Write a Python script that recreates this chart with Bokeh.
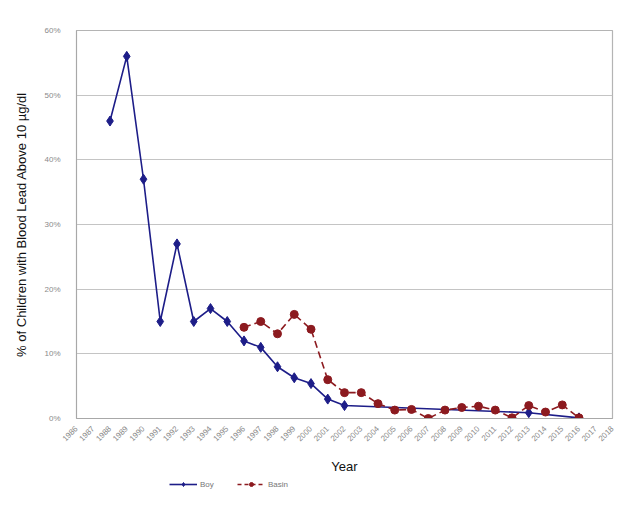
import math
from bokeh.plotting import figure
from bokeh.layouts import column
from bokeh.models import FixedTicker, PrintfTickFormatter, Legend, LegendItem, Range1d
from bokeh.embed import file_html
from bokeh.resources import INLINE

# ---- data ----
tick_years = [1986, 1987, 1988, 1989, 1990, 1991, 1992, 1993, 1994, 1995, 1996,
              1997, 1998, 1999, 2000, 2001, 2002, 2003, 2004, 2005, 2006, 2007,
              2008, 2009, 2010, 2011, 2012, 2013, 2014, 2015, 2016, 2017, 2018]
pct_ticks = [0, 10, 20, 30, 40, 50, 60]

boy_years = [1988, 1989, 1990, 1991, 1992, 1993, 1994, 1995, 1996, 1997, 1998,
             1999, 2000, 2001, 2002, 2013, 2016]
boy_pct = [46, 56, 37, 15, 27, 15, 17, 15, 12, 11, 8, 6.3, 5.4, 3.0, 2.0, 0.9, 0.1]

basin_years = [1996, 1997, 1998, 1999, 2000, 2001, 2002, 2003, 2004, 2005, 2006,
               2007, 2008, 2009, 2010, 2011, 2012, 2013, 2014, 2015, 2016]
basin_pct = [14.1, 15.0, 13.1, 16.1, 13.8, 6.0, 4.0, 4.0, 2.3, 1.3, 1.4,
             0.0, 1.3, 1.7, 1.9, 1.3, 0.1, 2.0, 1.0, 2.1, 0.1]

series_names = ["Boy", "Basin"]

BLUE = "#1d1d88"
RED = "#8c1a1f"
FONT = "Liberation Sans"
W = 615

p = figure(width=W, height=476, output_backend="svg", toolbar_location=None,
           x_range=Range1d(1986, 2018), y_range=Range1d(0, 60),
           min_border_left=76, min_border_right=3, min_border_top=30,
           min_border_bottom=46)
p.background_fill_color = "white"
p.border_fill_color = "white"
p.outline_line_color = "#b4b4b4"
p.outline_line_width = 1.2

# axes
p.xaxis.ticker = FixedTicker(ticks=tick_years)
p.xaxis.major_label_orientation = math.pi / 4
p.yaxis.ticker = FixedTicker(ticks=pct_ticks)
p.yaxis.formatter = PrintfTickFormatter(format="%d%%")
for ax in (p.xaxis, p.yaxis):
    ax.major_label_text_font = FONT
    ax.major_label_text_font_size = "8px"
    ax.major_label_text_color = "#8a8a8a"
    ax.major_tick_line_color = None
    ax.minor_tick_line_color = None
    ax.axis_line_color = "#a8a8a8"
    ax.axis_label_text_font = FONT
    ax.axis_label_text_font_style = "normal"
    ax.axis_label_text_color = "#111111"
p.xaxis.axis_label = "Year"
p.xaxis.axis_label_text_font_size = "13px"
p.xaxis.axis_label_standoff = 12
p.xaxis.major_label_standoff = 3
p.yaxis.axis_label = "% of Children with Blood Lead Above 10 µg/dl"
p.yaxis.axis_label_text_font_size = "13px"
p.yaxis.axis_label_standoff = 12
p.yaxis.major_label_standoff = 10

p.xgrid.grid_line_color = None
p.ygrid.grid_line_color = "#c4c4c4"
p.ygrid.grid_line_width = 1.2

# series
p.line(boy_years, boy_pct, line_color=BLUE, line_width=1.6)
p.scatter(boy_years, boy_pct, marker="diamond", size=10,
          fill_color=BLUE, line_color=BLUE)
p.line(basin_years, basin_pct, line_color=RED, line_width=1.6, line_dash="7 4")
p.scatter(basin_years, basin_pct, marker="circle", size=8,
          fill_color=RED, line_color=RED)

# ---- legend strip below the chart (its glyphs lie outside its own ranges) ----
lg = figure(width=W, height=13, output_backend="svg", toolbar_location=None,
            x_range=Range1d(0, 1), y_range=Range1d(-2, -1),
            x_axis_location=None, y_axis_location=None, min_border=0)
lg.outline_line_color = None
lg.grid.visible = False
lg.background_fill_color = "white"
lg.border_fill_color = "white"
l1 = lg.line(boy_years, boy_pct, line_color=BLUE, line_width=1.6)
m1 = lg.scatter(boy_years, boy_pct, marker="diamond", size=9,
                fill_color=BLUE, line_color=BLUE)
l2 = lg.line(basin_years, basin_pct, line_color=RED, line_width=1.6,
             line_dash="4 3")
m2 = lg.scatter(basin_years, basin_pct, marker="circle", size=7,
                fill_color=RED, line_color=RED)

legend = Legend(items=[LegendItem(label=series_names[0], renderers=[l1, m1]),
                       LegendItem(label=series_names[1], renderers=[l2, m2])],
                orientation="horizontal", location=(93, 0))
legend.background_fill_alpha = 0
legend.border_line_color = None
legend.label_text_font = FONT
legend.label_text_font_size = "8px"
legend.label_text_color = "#777777"
legend.glyph_width = 28
legend.glyph_height = 10
legend.label_height = 10
legend.spacing = 17
legend.padding = 1
legend.margin = 0
legend.label_standoff = 3
lg.add_layout(legend, "center")

layout = column(p, lg)
open("out.html", "w").write(file_html(layout, INLINE))
